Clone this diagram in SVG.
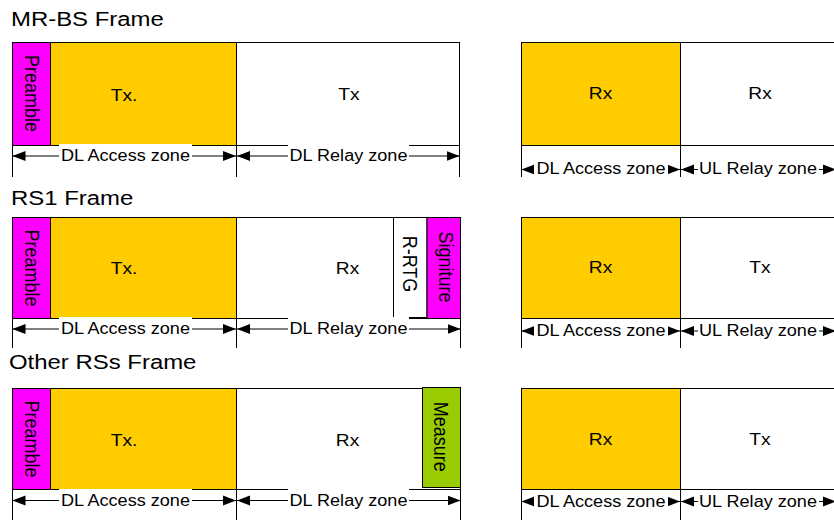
<svg xmlns="http://www.w3.org/2000/svg" width="834" height="520" viewBox="0 0 834 520">
<defs>
<style>
text{font-family:"Liberation Sans",Arial,sans-serif;fill:#000}
.title{font-size:21px}
.lbl{font-size:17px;text-anchor:middle}
.rot{font-size:18px;text-anchor:middle}
.zone{font-size:16px;text-anchor:middle}
.box{stroke:#000;stroke-width:1}
.w{fill:#fff}
.o{fill:#FFCC00}
.m{fill:#FF00FF}
.g{fill:#99CC00}
.ln{stroke:#000;stroke-width:1;fill:none}
.arr{stroke:#000;stroke-width:1;fill:none;marker-start:url(#ah);marker-end:url(#ah)}
.bg{fill:#fff}
</style>
<marker id="ah" markerUnits="userSpaceOnUse" markerWidth="13" markerHeight="11" refX="13" refY="5.5" orient="auto-start-reverse">
<path d="M0,0.5 L13,5.5 L0,10.5 Z" fill="#000"/>
</marker>
</defs>
<rect x="0" y="0" width="834" height="520" fill="#fff"/>

<!-- Titles -->
<text class="title" transform="translate(11,26) scale(1.14,1)">MR-BS Frame</text>
<text class="title" transform="translate(11,205) scale(1.14,1)">RS1 Frame</text>
<text class="title" transform="translate(9,368.5) scale(1.14,1)">Other RSs Frame</text>

<!-- MR-BS left frame -->
<g id="mrbs-left">
<rect class="box w" x="12.5" y="42.5" width="447" height="103"/>
<g id="mrbs-preamble"><rect class="box m" x="12.5" y="42.5" width="38" height="103"/>
<text class="rot" transform="translate(24.5,93.5) scale(1.13,1) rotate(90)">Preamble</text></g>
<g id="mrbs-tx"><rect class="box o" x="50.5" y="42.5" width="186" height="103"/>
<text class="lbl" transform="translate(124,101) scale(1.13,1)">Tx.</text></g>
<g id="mrbs-relay"><text class="lbl" transform="translate(349,99.5) scale(1.13,1)">Tx</text></g>
</g>
<!-- MR-BS right frame -->
<g id="mrbs-right">
<rect class="box w" x="521.5" y="42.5" width="330" height="103"/>
<g id="mrbs-rx1"><rect class="box o" x="521.5" y="42.5" width="159" height="103"/>
<text class="lbl" transform="translate(600.5,99) scale(1.13,1)">Rx</text></g>
<g id="mrbs-rx2"><text class="lbl" transform="translate(760,99) scale(1.13,1)">Rx</text></g>
</g>

<!-- RS1 left frame -->
<g id="rs1-left">
<rect class="box w" x="12.5" y="217.5" width="448" height="101"/>
<g id="rs1-preamble"><rect class="box m" x="12.5" y="217.5" width="38" height="101"/>
<text class="rot" transform="translate(24.5,268) scale(1.13,1) rotate(90)">Preamble</text></g>
<g id="rs1-tx"><rect class="box o" x="50.5" y="217.5" width="186" height="101"/>
<text class="lbl" transform="translate(124,274) scale(1.13,1)">Tx.</text></g>
<g id="rs1-rx"><text class="lbl" transform="translate(347.5,274) scale(1.13,1)">Rx</text></g>
<g id="rs1-rrtg"><rect class="box w" x="393.5" y="217.5" width="33.5" height="100"/>
<text class="rot" transform="translate(402.7,264) scale(1.13,1) rotate(90)">R-RTG</text></g>
<g id="rs1-sig"><rect class="box m" x="427" y="217.5" width="33.5" height="101"/>
<text class="rot" transform="translate(438.6,267) scale(1.13,1) rotate(90)">Signiture</text></g>
</g>
<!-- RS1 right frame -->
<g id="rs1-right">
<rect class="box w" x="521.5" y="217.5" width="330" height="101"/>
<g id="rs1-rx2"><rect class="box o" x="521.5" y="217.5" width="159" height="101"/>
<text class="lbl" transform="translate(600.5,273) scale(1.13,1)">Rx</text></g>
<g id="rs1-tx2"><text class="lbl" transform="translate(760,273) scale(1.13,1)">Tx</text></g>
</g>

<!-- Other RSs left frame -->
<g id="oth-left">
<rect class="box w" x="12.5" y="388.5" width="448" height="101"/>
<g id="oth-preamble"><rect class="box m" x="12.5" y="388.5" width="38" height="101"/>
<text class="rot" transform="translate(24.5,439) scale(1.13,1) rotate(90)">Preamble</text></g>
<g id="oth-tx"><rect class="box o" x="50.5" y="388.5" width="186" height="101"/>
<text class="lbl" transform="translate(124,445.5) scale(1.13,1)">Tx.</text></g>
<g id="oth-rx"><text class="lbl" transform="translate(347.5,445.5) scale(1.13,1)">Rx</text></g>
<g id="oth-measure"><rect class="box g" x="422.5" y="387.5" width="38" height="100"/>
<text class="rot" transform="translate(434.4,436.7) scale(1.13,1) rotate(90)">Measure</text></g>
</g>
<!-- Other RSs right frame -->
<g id="oth-right">
<rect class="box w" x="521.5" y="388.5" width="330" height="101"/>
<g id="oth-rx2"><rect class="box o" x="521.5" y="388.5" width="159" height="101"/>
<text class="lbl" transform="translate(600.5,445) scale(1.13,1)">Rx</text></g>
<g id="oth-tx2"><text class="lbl" transform="translate(760,445) scale(1.13,1)">Tx</text></g>
</g>

<!-- Connectors: extension lines and zone arrows -->
<g id="connectors">
<path class="ln" d="M12.5,145.5V177 M236.5,145.5V177 M459.5,145.5V177 M521.5,145.5V177 M680.5,145.5V177"/>
<path class="ln" d="M12.5,318.5V348 M236.5,318.5V348 M460.5,318.5V348 M521.5,318.5V348 M680.5,318.5V348"/>
<path class="ln" d="M12.5,489.5V520 M236.5,489.5V520 M460.5,489.5V520 M521.5,489.5V520 M680.5,489.5V520"/>

<line class="arr" x1="12.5" y1="156" x2="236" y2="156"/>
<line class="arr" x1="237" y1="156" x2="459.5" y2="156"/>
<line class="arr" x1="12.5" y1="329" x2="236" y2="329"/>
<line class="arr" x1="237" y1="329" x2="460.5" y2="329"/>
<line class="arr" x1="12.5" y1="500.5" x2="236" y2="500.5"/>
<line class="arr" x1="237" y1="500.5" x2="460.5" y2="500.5"/>

<line class="arr" x1="521.5" y1="169.5" x2="680" y2="169.5"/>
<line class="arr" x1="681" y1="169.5" x2="836" y2="169.5"/>
<line class="arr" x1="521.5" y1="331" x2="680" y2="331"/>
<line class="arr" x1="681" y1="331" x2="836" y2="331"/>
<line class="arr" x1="521.5" y1="501.5" x2="680" y2="501.5"/>
<line class="arr" x1="681" y1="501.5" x2="836" y2="501.5"/>
</g>

<!-- Zone labels -->
<g id="zone-labels">
<rect class="bg" x="59" y="144" width="133" height="22"/>
<rect class="bg" x="288" y="144" width="121" height="22"/>
<text class="zone" transform="translate(125.5,160.7) scale(1.13,1)">DL Access zone</text>
<text class="zone" transform="translate(348.5,160.7) scale(1.13,1)">DL Relay zone</text>

<rect class="bg" x="59" y="317" width="133" height="22"/>
<rect class="bg" x="288" y="317" width="121" height="22"/>
<text class="zone" transform="translate(125.5,334) scale(1.13,1)">DL Access zone</text>
<text class="zone" transform="translate(348.5,334) scale(1.13,1)">DL Relay zone</text>

<rect class="bg" x="59" y="489" width="133" height="22"/>
<rect class="bg" x="288" y="489" width="121" height="22"/>
<text class="zone" transform="translate(125.5,505.7) scale(1.13,1)">DL Access zone</text>
<text class="zone" transform="translate(348.5,505.7) scale(1.13,1)">DL Relay zone</text>

<rect class="bg" x="534" y="160" width="134" height="19"/>
<rect class="bg" x="698" y="160" width="121" height="19"/>
<text class="zone" transform="translate(601,174.3) scale(1.13,1)">DL Access zone</text>
<text class="zone" transform="translate(758,174.3) scale(1.13,1)">UL Relay zone</text>

<rect class="bg" x="534" y="322" width="134" height="19"/>
<rect class="bg" x="698" y="322" width="121" height="19"/>
<text class="zone" transform="translate(601,336) scale(1.13,1)">DL Access zone</text>
<text class="zone" transform="translate(758,336) scale(1.13,1)">UL Relay zone</text>

<rect class="bg" x="534" y="492" width="134" height="19"/>
<rect class="bg" x="698" y="492" width="121" height="19"/>
<text class="zone" transform="translate(601,506.7) scale(1.13,1)">DL Access zone</text>
<text class="zone" transform="translate(758,506.7) scale(1.13,1)">UL Relay zone</text>
</g>
</svg>
